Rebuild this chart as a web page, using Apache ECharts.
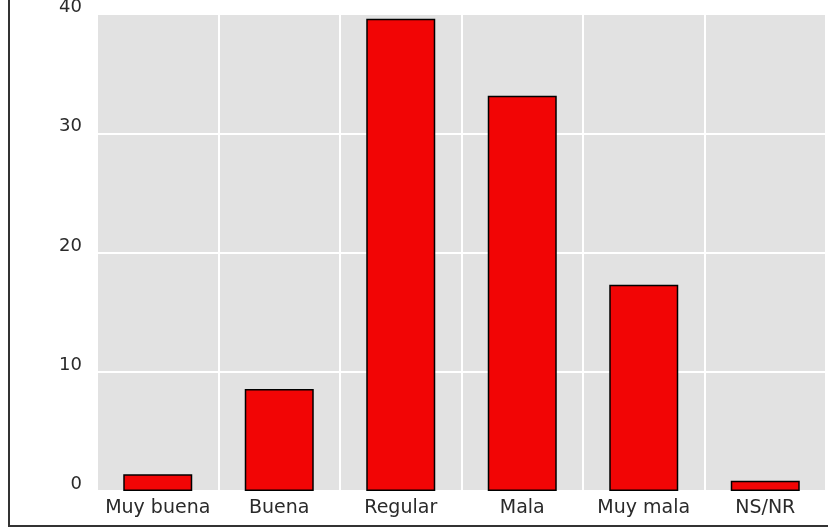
<!DOCTYPE html>
<html>
<head>
<meta charset="utf-8">
<script src="https://cdn.jsdelivr.net/npm/echarts@6/dist/echarts.min.js"></script>
<style>html,body{margin:0;padding:0;background:#fff}#c{width:828px;height:528px}</style>
</head>
<body>
<div id="c"></div>
<script>
const categories = ["Muy buena", "Buena", "Regular", "Mala", "Muy mala", "NS/NR"];
const values = [1.4, 8.55, 39.6, 33.15, 17.3, 0.85];
const yTicks = [0, 10, 20, 30, 40];

const chart = echarts.init(document.getElementById('c'), null, {renderer: 'canvas'});
chart.setOption({
  animation: false,
  backgroundColor: '#ffffff',
  grid: {left: 97, right: 2, top: 14, bottom: 37, show: true, backgroundColor: '#e2e2e2', borderWidth: 0, containLabel: false, outerBoundsMode: 'none'},
  xAxis: {
    type: 'category',
    data: categories,
    axisLine: {show: false},
    axisTick: {show: false},
    splitLine: {show: true, lineStyle: {color: '#ffffff', width: 2}},
    axisLabel: {color: '#2a2a2a', fontSize: 19, fontFamily: 'DejaVu Sans', margin: 8, interval: 0}
  },
  yAxis: {
    type: 'value',
    min: yTicks[0], max: yTicks[yTicks.length - 1], interval: 10,
    axisLine: {show: false},
    axisTick: {show: false},
    splitLine: {show: true, lineStyle: {color: '#ffffff', width: 2}},
    axisLabel: {color: '#2a2a2a', fontSize: 18, fontFamily: 'DejaVu Sans', margin: 15, verticalAlign: 'bottom', lineHeight: 13}
  },
  series: [{
    type: 'bar',
    data: values,
    barWidth: 69,
    itemStyle: {color: '#f20505', borderColor: '#000', borderWidth: 1.5}
  }],
  graphic: [
    {type: 'line', shape: {x1: 9, y1: 0, x2: 9, y2: 526}, style: {stroke: '#333', lineWidth: 2}},
    {type: 'line', shape: {x1: 8, y1: 526, x2: 828, y2: 526}, style: {stroke: '#333', lineWidth: 2}}
  ]
});
</script>
</body>
</html>
